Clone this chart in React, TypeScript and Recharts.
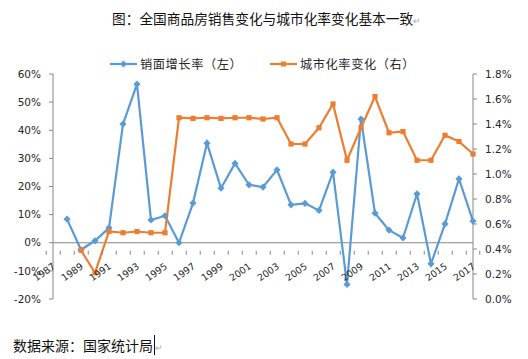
import { Line, LineChart, XAxis, YAxis } from 'recharts';

const years = [
  '1987', '1988', '1989', '1990', '1991', '1992', '1993', '1994', '1995', '1996', '1997',
  '1998', '1999', '2000', '2001', '2002', '2003', '2004', '2005', '2006', '2007',
  '2008', '2009', '2010', '2011', '2012', '2013', '2014', '2015', '2016', '2017',
];

// 销面增长率（左），%
const salesGrowth = [
  null, 8.4, -2.5, 0.7, 5.3, 42.2, 56.4, 8.1, 9.6, 0, 14.1,
  35.4, 19.4, 28.2, 20.6, 19.8, 25.9, 13.5, 14.0, 11.5, 25.1,
  -14.8, 44.0, 10.5, 4.5, 1.7, 17.4, -7.5, 6.7, 22.7, 7.7,
];

// 城市化率变化（右），%
const urbanChange = [
  null, null, 0.39, 0.21, 0.54, 0.53, 0.54, 0.53, 0.53, 1.45, 1.445,
  1.45, 1.445, 1.45, 1.45, 1.44, 1.45, 1.24, 1.24, 1.37, 1.56,
  1.11, 1.37, 1.62, 1.33, 1.34, 1.11, 1.11, 1.31, 1.26, 1.16,
];

const leftTicks = [-20, -10, 0, 10, 20, 30, 40, 50, 60];
const rightTicks = [0, 0.2, 0.4, 0.6, 0.8, 1.0, 1.2, 1.4, 1.6, 1.8];

const BLUE = '#5B9BD5';
const ORANGE = '#ED7D31';
const AXIS = '#868686';
const TEXT = '#262626';
const FONT = '"DejaVu Sans", sans-serif';
const CJK = '"Noto Sans CJK SC", sans-serif';

const W = 528;
const H = 359;
const TOP = 74;
const LEFT_W = 53;
const RIGHT_W = 55;
const XAXIS_H = 60;
const PLOT_H = H - TOP - XAXIS_H;
const PLOT_W = W - LEFT_W - RIGHT_W;
const STEP = PLOT_W / years.length;
// distance from the bottom of the plot up to the 0% line of the left axis
const ZERO_UP = (PLOT_H * (0 - leftTicks[0])) / (leftTicks[leftTicks.length - 1] - leftTicks[0]);

const data = years.map((year, i) => ({ year, sales: salesGrowth[i], urban: urbanChange[i] }));

function Diamond(props: any) {
  const { cx, cy, index } = props;
  if (cx == null || cy == null || props.value == null) return <g key={index} />;
  const r = 3.6;
  return (
    <polygon
      key={index}
      points={`${cx},${cy - r} ${cx + r},${cy} ${cx},${cy + r} ${cx - r},${cy}`}
      fill={BLUE}
    />
  );
}

function Square(props: any) {
  const { cx, cy, index } = props;
  if (cx == null || cy == null || props.value == null) return <g key={index} />;
  const r = 2.6;
  return <rect key={index} x={cx - r} y={cy - r} width={r * 2} height={r * 2} fill={ORANGE} />;
}

function YearTick(props: any) {
  const { x, y, payload, index } = props;
  const zeroY = y - ZERO_UP;
  const left = x - STEP / 2;
  const ax = x + 3;
  const ay = zeroY + 17;
  return (
    <g>
      <line x1={left} x2={left} y1={zeroY} y2={zeroY + 4} stroke={AXIS} />
      {index === years.length - 1 && (
        <line x1={x + STEP / 2} x2={x + STEP / 2} y1={zeroY} y2={zeroY + 4} stroke={AXIS} />
      )}
      {index % 2 === 0 && (
        <text
          x={ax}
          y={ay}
          transform={`rotate(-35 ${ax} ${ay})`}
          textAnchor="end"
          fontSize={9.5}
          fontFamily={FONT}
          fill={TEXT}
        >
          {payload.value}
        </text>
      )}
    </g>
  );
}

function LegendItem({ color, label, left, square }: { color: string; label: string; left: number; square?: boolean }) {
  return (
    <div style={{ position: 'absolute', left, top: 56, height: 16, display: 'flex', alignItems: 'center' }}>
      <svg width={30} height={16}>
        <line x1={0} x2={27} y1={8} y2={8} stroke={color} strokeWidth={2.2} />
        {square ? (
          <rect x={11} y={5.5} width={5} height={5} fill={color} />
        ) : (
          <polygon points="13.5,4.5 17,8 13.5,11.5 10,8" fill={color} />
        )}
      </svg>
      <span style={{ fontFamily: CJK, fontSize: 12.2, color: TEXT, letterSpacing: 0.6 }}>{label}</span>
    </div>
  );
}

export default function App() {
  return (
    <div style={{ position: 'absolute', left: 0, top: 0, width: W, height: H, background: '#fff' }}>
      <div
        style={{
          position: 'absolute',
          left: 112,
          top: 8,
          fontFamily: CJK,
          fontSize: 13.7,
          color: '#111',
          whiteSpace: 'nowrap',
        }}
      >
        图：全国商品房销售变化与城市化率变化基本一致
        <span style={{ fontSize: 9, color: '#aaa' }}>↵</span>
      </div>
      <LegendItem color={BLUE} label="销面增长率（左）" left={110} />
      <LegendItem color={ORANGE} label="城市化率变化（右）" left={270} square />
      <LineChart width={W} height={H} data={data} margin={{ top: TOP, right: 0, bottom: 0, left: 0 }}>
        <XAxis
          dataKey="year"
          height={XAXIS_H}
          interval={0}
          axisLine={false}
          tickLine={false}
          tick={<YearTick />}
        />
        <YAxis
          yAxisId="left"
          width={LEFT_W}
          domain={[-20, 60]}
          ticks={leftTicks}
          tickFormatter={(v) => `${v}%`}
          axisLine={{ stroke: AXIS }}
          tickLine={{ stroke: AXIS }}
          tickSize={4}
          tickMargin={8}
          tick={{ fontSize: 10.5, fontFamily: FONT, fill: TEXT }}
        />
        <YAxis
          yAxisId="right"
          orientation="right"
          width={RIGHT_W}
          domain={[0, 1.8]}
          ticks={rightTicks}
          tickFormatter={(v) => `${v.toFixed(1)}%`}
          axisLine={{ stroke: AXIS }}
          tickLine={{ stroke: AXIS }}
          tickSize={4}
          tickMargin={8}
          tick={{ fontSize: 10.5, fontFamily: FONT, fill: TEXT }}
        />
        <Line
          yAxisId="left"
          dataKey={() => 0}
          stroke={AXIS}
          strokeWidth={1}
          dot={false}
          activeDot={false}
          isAnimationActive={false}
          connectNulls
        />
        <Line
          yAxisId="left"
          dataKey="sales"
          stroke={BLUE}
          strokeWidth={2.2}
          dot={<Diamond />}
          activeDot={false}
          isAnimationActive={false}
        />
        <Line
          yAxisId="right"
          dataKey="urban"
          stroke={ORANGE}
          strokeWidth={2.2}
          dot={<Square />}
          activeDot={false}
          isAnimationActive={false}
        />
      </LineChart>
      <div
        style={{
          position: 'absolute',
          left: 13,
          top: 335,
          fontFamily: CJK,
          fontSize: 14,
          color: '#111',
          whiteSpace: 'nowrap',
        }}
      >
        数据来源：国家统计局
        <span style={{ borderLeft: '1px solid #111', marginLeft: 1 }} />
        <span style={{ fontSize: 9, color: '#aaa' }}>↵</span>
      </div>
    </div>
  );
}
